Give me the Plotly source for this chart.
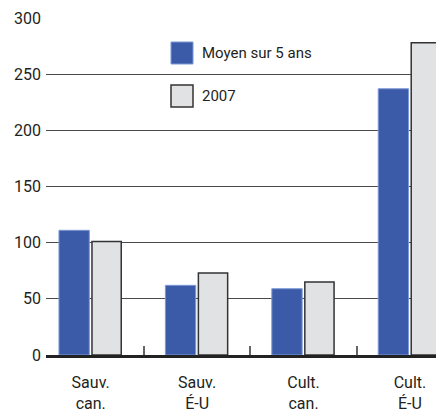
import plotly.graph_objects as go

categories = ["Sauv.<br>can.", "Sauv.<br>É-U", "Cult.<br>can.", "Cult.<br>É-U"]
series_names = ["Moyen sur 5 ans", "2007"]
avg5 = [111, 62, 59, 237]
y2007 = [101, 73, 65, 278]
y_ticks = [0, 50, 100, 150, 200, 250, 300]

BLUE = "#3B5BA8"
GRAY = "#E1E2E4"

# page body has an 8px default margin; work in figure coordinates
OFF = 8
W, H = 444 - OFF, 412 - OFF
L, R, T, B = 46 - OFF, 444 - OFF, 18 - OFF, 355 - OFF

fig = go.Figure()
fig.add_trace(go.Bar(x=categories, y=avg5, name=series_names[0],
                     marker=dict(color=BLUE, line=dict(color="#7D98D6", width=1)),
                     width=0.285, offset=-0.298, showlegend=False))
fig.add_trace(go.Bar(x=categories, y=y2007, name=series_names[1],
                     marker=dict(color=GRAY, line=dict(color="#333333", width=1.5)),
                     width=0.275, offset=0.012, showlegend=False))

def px(x): return (x - OFF - L) / (R - L)
def py(y): return (B - (y - OFF)) / (B - T)

# legend drawn manually (large square swatches)
fig.add_shape(type="rect", xref="paper", yref="paper",
              x0=px(171), x1=px(193), y0=py(64), y1=py(42),
              fillcolor=BLUE, line=dict(color="#7D98D6", width=1))
fig.add_shape(type="rect", xref="paper", yref="paper",
              x0=px(171), x1=px(193), y0=py(107), y1=py(85),
              fillcolor=GRAY, line=dict(color="#333333", width=1.5))
for name, yy in zip(series_names, [53, 96]):
    fig.add_annotation(text=name, xref="paper", yref="paper", x=px(200), y=py(yy),
                       xanchor="left", yanchor="middle", showarrow=False,
                       font=dict(family="Roboto", size=15, color="#231F20"))

fig.update_layout(
    width=W, height=H,
    margin=dict(l=L, r=W - R, t=T, b=H - B, pad=0),
    paper_bgcolor="white", plot_bgcolor="white",
    barmode="overlay",
    font=dict(family="Roboto", color="#231F20"),
    xaxis=dict(range=[-0.42, 3.32], showline=True, linecolor="#222222", linewidth=2.5,
               ticks="inside", tickson="boundaries", ticklen=9, tickcolor="#666666", tickwidth=1.5,
               showgrid=False,
               tickfont=dict(family="Liberation Sans Narrow, Roboto", size=16, color="#231F20"),
               ticklabelstandoff=11),
    yaxis=dict(range=[0, 300], tickvals=y_ticks, ticks="", showgrid=True,
               gridcolor="#4A4A4A", gridwidth=1, zeroline=False, showline=False,
               tickfont=dict(family="Roboto", size=16, color="#231F20"),
               ticklabelstandoff=4),
)

fig.write_html("out.html")
